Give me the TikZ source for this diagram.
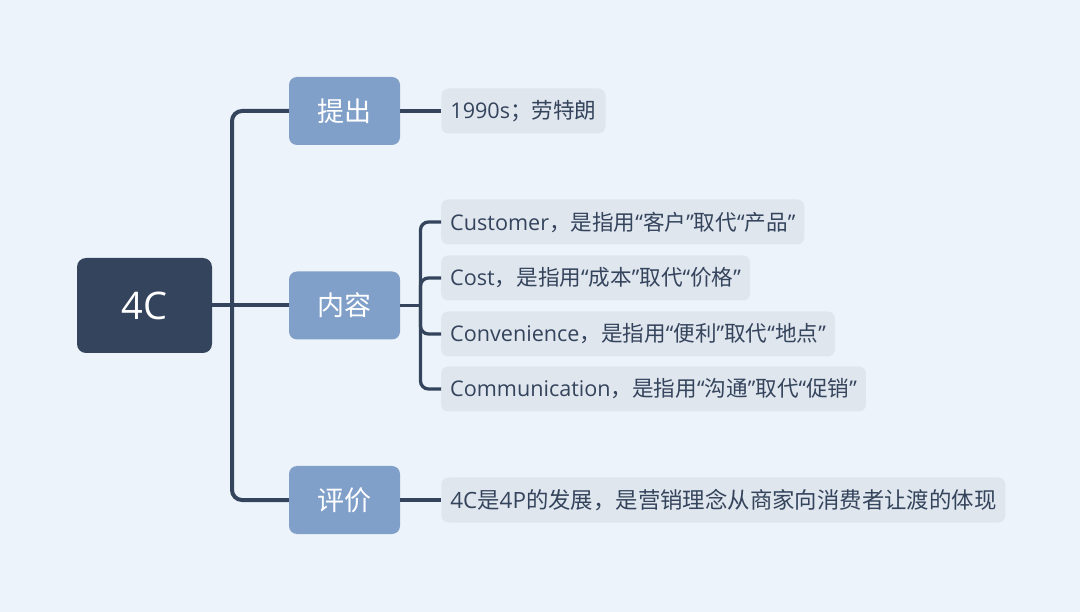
\documentclass[tikz,border=0pt]{standalone}
\usepackage{fontspec}
\setmainfont{Open Sans}
\newfontfamily\cjk{Noto Sans CJK SC}
\usetikzlibrary{positioning}
\usepackage{xcolor}
\definecolor{mmbg}{RGB}{237,243,250}
\definecolor{mmnavy}{RGB}{52,68,92}
\definecolor{mmsteel}{RGB}{128,160,201}
\definecolor{mmgrey}{RGB}{224,230,238}
\newcommand{\zh}[1]{{\cjk #1}}
\tikzstyle{rootbox} = [rectangle, rounded corners=9pt, minimum width=135pt, minimum height=95pt, fill=mmnavy, text=white, font=\fontsize{38}{40}\selectfont]
\tikzstyle{branchbox} = [rectangle, rounded corners=8pt, minimum width=111pt, minimum height=68pt, fill=mmsteel, text=white, font=\cjk\fontsize{27}{30}\selectfont]
\tikzstyle{leafbox} = [rectangle, rounded corners=7pt, minimum height=45pt, inner xsep=9pt, fill=mmgrey, text=mmnavy, anchor=west, font=\fontsize{21.6}{23}\selectfont]
\tikzstyle{trunk} = [line width=4pt, color=mmnavy, rounded corners=10pt]
\tikzstyle{twig} = [line width=3.3pt, color=mmnavy, rounded corners=8pt]

\begin{document}
\begin{tikzpicture}[x=1pt, y=-1pt]
\fill[mmbg] (0,0) rectangle (1080,612);
% root and main branches
\node (root) [rootbox] at (144.5,305.5) {4C};
\node (tichu) [branchbox] at (344.5,111) {提出};
\node (neirong) [branchbox] at (344.5,305.5) {内容};
\node (pingjia) [branchbox] at (344.5,500) {评价};

% leaves
\node (year) [leafbox, right=41pt of tichu] {1990s\zh{；劳特朗}};
\node (cust) [leafbox] at (441,222) {Customer\zh{，是指用}“\zh{客户}”\zh{取代}“\zh{产品}”};
\node (cost) [leafbox] at (441,278) {Cost\zh{，是指用}“\zh{成本}”\zh{取代}“\zh{价格}”};
\node (conv) [leafbox] at (441,334) {Convenience\zh{，是指用}“\zh{便利}”\zh{取代}“\zh{地点}”};
\node (comm) [leafbox] at (441,389) {Communication\zh{，是指用}“\zh{沟通}”\zh{取代}“\zh{促销}”};
\node (view) [leafbox, right=41pt of pingjia, font=\fontsize{22.4}{24}\selectfont] {4C\zh{是}4P\zh{的发展，是营销理念从商家向消费者让渡的体现}};

% connectors
\coordinate (fork) at (232,305.5);
\coordinate (twigfork) at (420.5,305.5);
\draw[trunk] (tichu.west) -| (fork) |- (pingjia.west);
\draw[trunk] (root.east) -- (neirong.west);
\draw[twig] (neirong.east) -- (twigfork);
\draw[twig] (cust.west) -| (twigfork) |- (comm.west);
\draw[twig] (cost.west) -| (twigfork);
\draw[twig] (conv.west) -| (twigfork);
\draw[twig] (tichu.east) -- (year.west);
\draw[twig] (pingjia.east) -- (view.west);
\end{tikzpicture}
\end{document}
